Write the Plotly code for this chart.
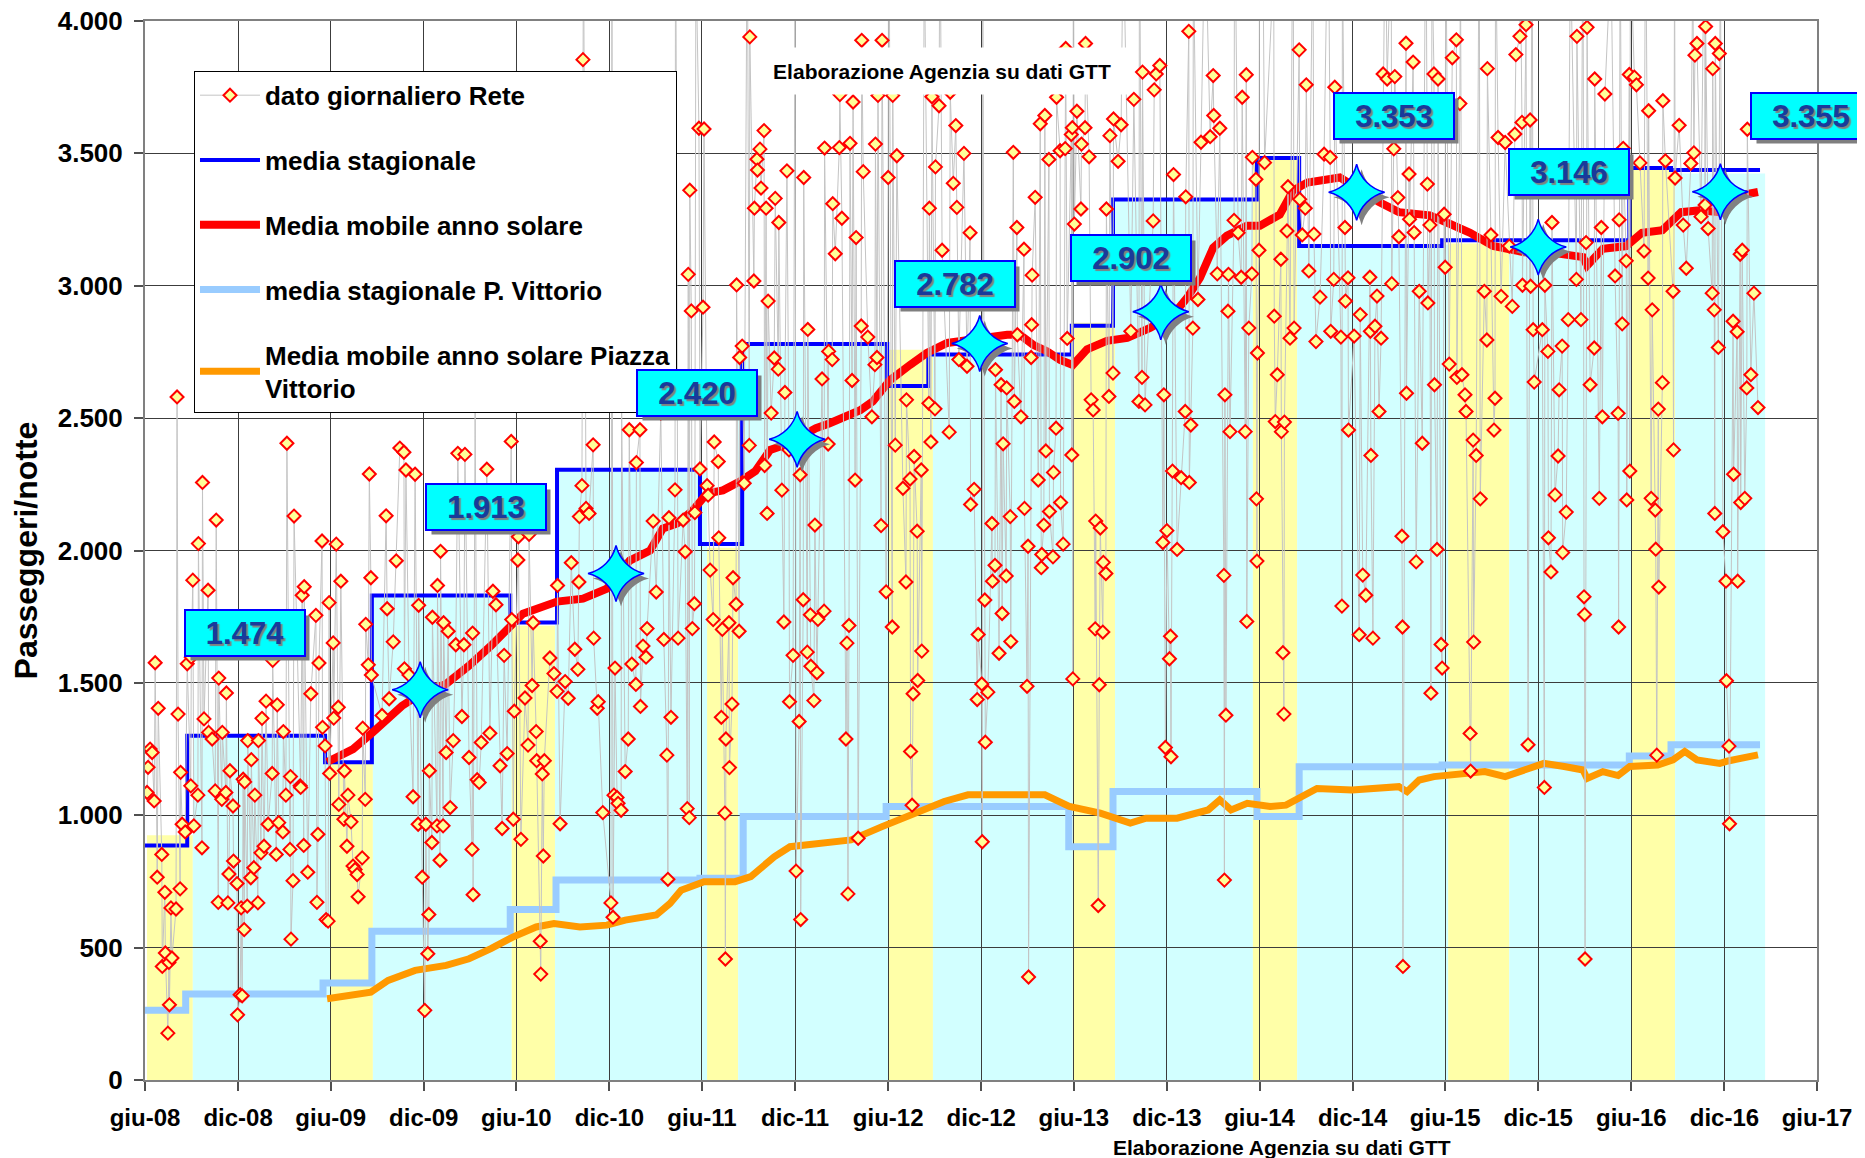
import pandas as pd
import plotly.graph_objects as go

# Origine dei giorni usati nelle serie (giorno 0 = 1 giugno 2008)
INIZIO = pd.Timestamp("2008-06-01")
FINE = pd.Timestamp("2017-06-01")

# --- dato giornaliero Rete: (giorno, passeggeri/notte) -------------------
rete_2008 = [(4, 1086), (6, 1181), (10, 1250), (14, 1237), (18, 1054), (20, 1576), (24, 766), (26, 1404),
             (33, 852), (34, 429), (39, 709), (40, 480), (45, 177), (47, 444), (48, 284), (51, 650),
             (53, 461), (61, 646), (63, 2580), (65, 1382), (69, 722), (70, 1162), (73, 966), (79, 937),
             (83, 1572), (90, 1111), (91, 1597), (94, 1888), (96, 960), (104, 1076), (105, 2026), (112, 877),
             (113, 2257), (116, 1364), (124, 1850), (125, 1313), (132, 1288), (138, 1092), (140, 2115),
             (144, 671), (145, 1518), (151, 1060), (152, 1313), (159, 1086), (160, 1462), (163, 669),
             (165, 778), (167, 1168), (173, 1035), (174, 827), (181, 742), (182, 246), (187, 322), (189, 650),
             (191, 318), (193, 1136), (195, 568), (196, 1126), (201, 657), (202, 1282), (208, 764), (209, 1210)]
rete_2009 = [(214, 802), (216, 1076), (222, 669), (223, 1282), (228, 858), (230, 1366), (234, 883), (238, 1431),
             (242, 966), (250, 1158), (251, 1585), (258, 852), (260, 1417), (263, 972), (271, 937), (272, 1316),
             (277, 1076), (279, 2405), (285, 871), (286, 1146), (287, 532), (291, 753), (293, 2130), (305, 1111),
             (306, 1105), (309, 1831), (312, 886), (313, 1863), (320, 785), (326, 1459), (336, 1755), (338, 671),
             (340, 928), (342, 1575), (348, 2036), (349, 1332), (354, 1262), (356, 606), (360, 600), (362, 1803),
             (363, 1158), (370, 1651), (371, 1367), (376, 2024), (380, 1408), (381, 1041), (385, 1884), (391, 985),
             (392, 1168), (397, 883), (399, 1076), (405, 975), (409, 808), (413, 795), (417, 776), (419, 692),
             (427, 839), (428, 1329), (433, 1060), (434, 1721), (439, 1568), (441, 2289), (444, 1897), (445, 1530),
             (466, 1377), (474, 2131), (476, 1780), (480, 1440), (488, 1655), (494, 1961), (501, 2387),
             (509, 2371), (510, 1553), (513, 2304), (519, 1530), (527, 1070), (531, 2288), (537, 966), (538, 1793),
             (545, 766), (550, 263), (552, 966), (556, 477), (558, 625), (559, 1168), (564, 897), (565, 1748),
             (574, 960), (575, 1868)]
rete_2010 = [(580, 830), (581, 1997), (586, 960), (587, 1727), (592, 1237), (596, 1695), (600, 1029), (606, 1282),
             (611, 1644), (615, 2367), (623, 1373), (627, 1644), (629, 2363), (637, 1218), (643, 871), (644, 1688),
             (645, 700), (649, 2551), (653, 1134), (657, 1124), (661, 1275), (672, 2307), (678, 1310), (684, 1846),
             (690, 1795), (698, 1187), (702, 950), (706, 1604), (712, 1233), (720, 2412), (721, 1739), (724, 985),
             (726, 1393), (733, 1964), (734, 2052), (739, 909), (747, 1443), (753, 1265), (755, 2061), (761, 1490),
             (763, 1727), (769, 1316), (770, 1206), (777, 524), (778, 400), (781, 1156), (783, 846), (785, 1206),
             (796, 1594), (804, 1535), (810, 1468), (811, 1868), (816, 968), (826, 1505), (832, 1442), (838, 1954),
             (845, 1627), (851, 1551), (853, 1881), (854, 2128), (859, 2245), (861, 3854), (862, 4400), (867, 2159),
             (873, 2140), (881, 2399), (882, 1669), (889, 1404), (891, 1429), (900, 1010), (916, 669), (918, 4300),
             (920, 615), (922, 1076), (924, 1556), (928, 1067), (930, 1045), (936, 1019), (937, 2556)]
rete_2011 = [(944, 1165), (950, 1288), (952, 2456), (957, 1571), (965, 1494), (966, 2332), (973, 2456), (974, 1411),
             (979, 1639), (985, 1597), (987, 1705), (999, 2111), (1005, 1843), (1014, 2519), (1020, 1664),
             (1026, 1227), (1028, 758), (1030, 2124), (1034, 1370), (1042, 2229), (1043, 4600), (1048, 1669),
             (1058, 2115), (1062, 1995), (1066, 1025), (1068, 3043), (1070, 991), (1071, 3361), (1074, 2905),
             (1076, 1705), (1080, 1799), (1081, 2143), (1083, 4250), (1089, 3595), (1091, 2308), (1097, 2919),
             (1099, 3592), (1105, 2245), (1107, 2209), (1111, 1926), (1117, 1739), (1119, 2410), (1127, 2336),
             (1128, 2048), (1133, 1370), (1135, 1702), (1140, 1008), (1141, 457), (1142, 1288), (1148, 1727),
             (1149, 1180), (1154, 1420), (1156, 1897), (1162, 1797), (1163, 3003), (1168, 1695), (1169, 2729),
             (1174, 2772), (1178, 2254), (1184, 4500), (1188, 2397), (1189, 3940), (1197, 3018), (1198, 3293),
             (1203, 3478), (1204, 3437), (1209, 3516), (1211, 3369), (1217, 3586), (1218, 2321), (1221, 3293),
             (1223, 2140), (1225, 2942), (1231, 2519), (1237, 2727), (1239, 3330), (1245, 2685), (1246, 3239),
             (1252, 2228), (1256, 1730), (1258, 2597), (1262, 3434), (1266, 2380), (1267, 1429), (1274, 1604),
             (1278, 4350), (1280, 789), (1286, 1354), (1288, 2286), (1289, 606), (1294, 1814), (1295, 3409),
             (1302, 1616), (1303, 2835), (1308, 1757)]
rete_2012 = [(1309, 1563), (1315, 1433), (1317, 2096), (1321, 1538), (1323, 1740), (1331, 2648), (1335, 1771),
             (1336, 3520), (1343, 2402), (1344, 2752), (1351, 2721), (1352, 3310), (1357, 3121), (1365, 3522),
             (1366, 3722), (1370, 3255), (1378, 1288), (1380, 1650), (1382, 703), (1384, 1717), (1386, 3538),
             (1390, 2642), (1392, 3694), (1396, 2266), (1398, 3182), (1402, 913), (1408, 2848), (1409, 3927),
             (1412, 3431), (1421, 2806), (1429, 2505), (1435, 2702), (1436, 3535), (1439, 2729), (1441, 3719),
             (1447, 2094), (1449, 3927), (1457, 1844), (1461, 3409), (1462, 4700), (1469, 1711), (1470, 3719),
             (1475, 2398), (1478, 3491), (1490, 2235), (1496, 1881), (1497, 2569), (1504, 2270), (1505, 1241),
             (1508, 1038), (1510, 1459), (1512, 2355), (1518, 2073), (1519, 1509), (1526, 2304), (1527, 1620),
             (1532, 4300), (1541, 2556), (1542, 3293), (1545, 2410), (1547, 3714), (1553, 2535), (1554, 3449),
             (1561, 3680), (1563, 4450), (1567, 3134), (1581, 2447), (1583, 3731), (1589, 3387), (1594, 3605),
             (1596, 3296), (1600, 2721), (1610, 3500), (1616, 2696), (1622, 3200), (1623, 2174), (1630, 2231),
             (1636, 1437), (1638, 1683), (1645, 1496), (1646, 900), (1647, 4200), (1651, 1813), (1652, 1276),
             (1657, 1465), (1665, 2102), (1666, 1884), (1671, 1944), (1672, 2683)]
rete_2013 = [(1679, 1612), (1683, 2626), (1685, 1762), (1687, 2403), (1693, 1904), (1694, 2614), (1701, 2128),
             (1702, 1656), (1707, 3504), (1709, 2563), (1714, 3220), (1715, 2815), (1722, 2505), (1728, 3138),
             (1729, 2159), (1734, 1487), (1736, 2016), (1737, 389), (1742, 2729), (1743, 2853), (1744, 3040),
             (1750, 3334), (1756, 2266), (1760, 3612), (1762, 1935), (1763, 1985), (1767, 2096), (1769, 3643),
             (1771, 2376), (1777, 3477), (1778, 2147), (1785, 1976), (1786, 2295), (1791, 2462), (1792, 3712),
             (1799, 3510), (1800, 2181), (1805, 2024), (1809, 3518), (1810, 3896), (1813, 2801), (1821, 3571),
             (1822, 2361), (1823, 3597), (1824, 1515), (1825, 4600), (1827, 3233), (1832, 3659), (1840, 3290),
             (1841, 3535), (1848, 3597), (1849, 3915), (1856, 3487), (1860, 2569), (1864, 2531), (1868, 1704),
             (1869, 2111), (1874, 659), (1876, 1493), (1878, 2085), (1883, 1692), (1884, 1955), (1889, 1913),
             (1890, 3290), (1895, 2582), (1897, 3567), (1903, 2670), (1904, 3630), (1913, 3470), (1919, 3608),
             (1923, 4350), (1938, 2828), (1944, 3704), (1954, 2563), (1955, 4500), (1960, 2654), (1961, 3807),
             (1966, 2550), (1982, 3245), (1984, 3740), (1988, 3800), (1995, 3832), (2001, 2030), (2003, 2588),
             (2006, 1256), (2009, 2075), (2014, 1591), (2016, 1676), (2017, 1221), (2020, 2300), (2022, 3420),
             (2029, 2004), (2037, 2275)]
rete_2014 = [(2045, 2525), (2046, 3336), (2052, 3961), (2053, 2257), (2056, 2474), (2060, 2840), (2061, 4250),
             (2070, 2948), (2076, 3542), (2084, 4400), (2094, 3563), (2100, 3794), (2101, 3643), (2108, 3045),
             (2113, 3595), (2121, 1906), (2122, 755), (2123, 2588), (2125, 1378), (2129, 2904), (2130, 3043),
             (2133, 2449), (2141, 3247), (2142, 4550), (2149, 3200), (2155, 3032), (2157, 3712), (2163, 2449),
             (2165, 3797), (2166, 1732), (2170, 2840), (2176, 3045), (2177, 3485), (2184, 3402), (2185, 2195),
             (2186, 1960), (2187, 2746), (2190, 3134), (2191, 4300), (2197, 4450), (2201, 3465), (2219, 4200),
             (2220, 2885), (2222, 2487), (2226, 2664), (2233, 3100), (2234, 2449), (2237, 1614), (2239, 1382),
             (2240, 2485), (2245, 3207), (2247, 3374), (2251, 2802), (2257, 4600), (2259, 2840), (2269, 3891),
             (2270, 3327), (2275, 3192), (2281, 3293), (2283, 3759), (2288, 3056), (2296, 4350), (2298, 3195),
             (2302, 2789), (2310, 2957), (2318, 3497), (2326, 4500), (2330, 3485), (2331, 2828), (2337, 3024),
             (2339, 3750), (2351, 2806), (2353, 1790), (2354, 4250), (2359, 3220), (2360, 2942), (2365, 3030),
             (2366, 2455), (2377, 2810), (2387, 1682), (2389, 2891), (2394, 1907), (2400, 1831)]
rete_2015 = [(2408, 3032), (2409, 2828), (2410, 2359), (2414, 1669), (2418, 2847), (2422, 2961), (2426, 2525),
             (2430, 2802), (2434, 3800), (2438, 4400), (2442, 3781), (2450, 4300), (2451, 3008), (2455, 3517),
             (2457, 3790), (2463, 3333), (2465, 3185), (2471, 2054), (2472, 1711), (2473, 429), (2479, 3916),
             (2480, 2594), (2485, 3422), (2486, 3251), (2493, 3845), (2495, 3201), (2499, 1957), (2505, 2979),
             (2511, 2405), (2518, 4550), (2521, 3384), (2522, 2935), (2526, 3229), (2528, 1461), (2530, 4250),
             (2534, 3800), (2535, 2626), (2540, 2004), (2542, 3781), (2548, 1645), (2550, 1556), (2554, 3270),
             (2556, 3070), (2557, 4400), (2564, 2704), (2570, 3861), (2578, 3929), (2579, 2654), (2585, 3688),
             (2586, 4300), (2589, 2664), (2595, 2588), (2597, 2525), (2605, 1309), (2606, 1167), (2611, 2417),
             (2612, 1654), (2617, 2359), (2623, 4500), (2625, 2195), (2633, 2979), (2638, 2795), (2639, 3820),
             (2646, 3192), (2652, 2455), (2654, 2575), (2655, 4350), (2660, 3560), (2666, 2960), (2674, 3541),
             (2682, 3150), (2688, 2922), (2693, 3573), (2695, 3873), (2703, 3942), (2704, 4200), (2707, 3617),
             (2708, 3002), (2715, 3986), (2719, 1266), (2723, 3626), (2724, 2998), (2727, 4450), (2729, 2834),
             (2731, 2636), (2747, 2834), (2751, 1105), (2752, 3002), (2758, 2752), (2759, 2048), (2764, 1919),
             (2766, 3239)]
rete_2016 = [(2772, 2210), (2778, 2357), (2780, 2607), (2786, 2772), (2787, 1992), (2794, 2145), (2798, 2872),
             (2802, 4300), (2814, 3024), (2815, 3942), (2823, 2872), (2827, 4600), (2829, 1825), (2830, 1758),
             (2831, 457), (2833, 3163), (2835, 3976), (2841, 2626), (2849, 2765), (2850, 3781), (2859, 2197),
             (2863, 3220), (2865, 2505), (2870, 3724), (2882, 4250), (2890, 3037), (2896, 2518), (2897, 1711),
             (2898, 3249), (2900, 4400), (2904, 2856), (2906, 3519), (2912, 3094), (2913, 2191), (2918, 3798),
             (2919, 2300), (2920, 4300), (2928, 3788), (2932, 3759), (2939, 3464), (2947, 3131), (2950, 4500),
             (2955, 3029), (2956, 3661), (2961, 2197), (2963, 2909), (2969, 2153), (2970, 2005), (2972, 1227),
             (2975, 2534), (2976, 1862), (2983, 2634), (2984, 3699), (2989, 3472), (3004, 2979), (3005, 2380),
             (3007, 4350), (3008, 3407), (3016, 3606), (3024, 3229), (3030, 3066), (3039, 3462), (3043, 4200),
             (3045, 3502), (3047, 3871), (3051, 3915), (3059, 3261), (3066, 4450), (3067, 3305), (3068, 3979),
             (3073, 3216), (3081, 2972), (3082, 3820), (3085, 2909), (3086, 2140), (3087, 3915), (3093, 2767),
             (3095, 3877), (3097, 4300), (3102, 2071), (3108, 1884), (3109, 1508), (3114, 1261), (3115, 968),
             (3122, 2866), (3123, 2288), (3130, 2826), (3131, 1884)]
rete_2017 = [(3136, 3119), (3137, 2181), (3140, 3134), (3145, 2197), (3149, 2614), (3150, 3591), (3157, 2664),
             (3163, 2972), (3171, 2540)]

# --- media stagionale Rete (gradini: giorno di inizio, valore) -----------
blu_giorni = [0, 83, 354, 446, 718, 810, 1091, 1174, 1459, 1540, 1822, 1903, 2186, 2269, 2550, 2918, 3000, 3175]
blu_valori = [886, 1300, 1200, 1830, 1728, 2305, 2025, 2780, 2621, 2740, 2849, 3326, 3483, 3150, 3172, 3445,
              3437, 3437]

# --- media stagionale P. Vittorio ---------------------------------------
pv_giorni = [0, 80, 350, 446, 718, 808, 1091, 1176, 1457, 1816, 1903, 2186, 2269, 2550, 2918, 3000, 3175]
pv_valori = [263, 325, 366, 562, 644, 755, 762, 995, 1033, 881, 1090, 995, 1183, 1190, 1224, 1266, 1266]

# --- Media mobile anno solare (Rete) -------------------------------------
mm_giorni = [358, 409, 448, 488, 505, 548, 592, 637, 680, 743, 810, 861, 908, 953, 993, 1018, 1046, 1077,
             1105, 1136, 1170, 1200, 1229, 1260, 1282, 1319, 1345, 1384, 1406, 1431, 1465, 1504, 1537, 1577,
             1622, 1667, 1695, 1720, 1746, 1773, 1799, 1824, 1852, 1891, 1931, 1976, 2021, 2049, 2074, 2100,
             2127, 2166, 2192, 2231, 2257, 2285, 2324, 2349, 2373, 2426, 2465, 2526, 2558, 2605, 2650, 2711,
             2758, 2827, 2835, 2866, 2912, 2943, 2983, 3020, 3057, 3096, 3104, 3155, 3171]
mm_valori = [1201, 1250, 1314, 1390, 1413, 1466, 1496, 1565, 1640, 1761, 1807, 1818, 1856, 1962, 2000, 2083,
             2102, 2152, 2216, 2227, 2261, 2300, 2380, 2400, 2425, 2462, 2480, 2515, 2530, 2564, 2644, 2701,
             2746, 2784, 2797, 2810, 2815, 2815, 2777, 2753, 2720, 2701, 2760, 2792, 2803, 2841, 2890, 2955,
             3030, 3144, 3189, 3227, 3227, 3269, 3360, 3390, 3402, 3409, 3380, 3316, 3278, 3266, 3240, 3200,
             3150, 3127, 3127, 3108, 3076, 3140, 3150, 3200, 3210, 3278, 3285, 3278, 3330, 3350, 3354]

# --- Media mobile anno solare Piazza Vittorio ----------------------------
pvmm_giorni = [358, 417, 444, 478, 531, 592, 637, 680, 723, 769, 804, 855, 908, 944, 1005, 1032, 1054, 1099,
               1160, 1191, 1237, 1268, 1330, 1388, 1449, 1510, 1571, 1618, 1681, 1740, 1769, 1817, 1878, 1937,
               1968, 2029, 2090, 2113, 2135, 2167, 2212, 2243, 2273, 2304, 2373, 2465, 2481, 2505, 2534, 2605,
               2634, 2674, 2711, 2750, 2790, 2827, 2835, 2866, 2896, 2919, 2974, 3004, 3027, 3051, 3096, 3112,
               3171]
pvmm_valori = [307, 320, 332, 376, 414, 433, 458, 496, 540, 578, 591, 578, 585, 604, 623, 667, 717, 749, 749,
               768, 843, 881, 895, 907, 957, 1008, 1052, 1077, 1077, 1071, 1077, 1033, 1008, 970, 989, 989, 1020,
               1058, 1020, 1045, 1033, 1038, 1070, 1101, 1095, 1108, 1089, 1133, 1146, 1158, 1165, 1146, 1171,
               1196, 1184, 1171, 1139, 1165, 1150, 1184, 1190, 1209, 1241, 1209, 1196, 1205, 1228]

# --- fasce stagionali di sfondo (bordi in giorni, altezza) ---------------
fasce_bordi = [4, 94, 364, 448, 721, 806, 1105, 1166, 1461, 1549, 1824, 1907, 2178, 2265, 2562, 2682, 2923,
               3008, 3185]
fasce_altezza = [924, 1300, 1200, 1830, 1716, 2310, 2010, 2780, 2758, 2740, 2860, 3326, 3485, 3155, 3160,
                 3170, 3443, 3424]
fasce_stagione = ["estate", "inverno"] * 9

# --- valori di fine anno evidenziati -------------------------------------
stelle_date = ["2009-11-24", "2010-12-14", "2011-12-05", "2012-11-28", "2013-11-19", "2014-12-09",
               "2015-12-01", "2016-11-23"]
stelle_valori = [1474, 1913, 2420, 2782, 2902, 3353, 3146, 3355]

# --- assi -----------------------------------------------------------------
tick_date = pd.date_range(INIZIO, FINE, freq="6MS")
etichette_x = ["giu-08", "dic-08", "giu-09", "dic-09", "giu-10", "dic-10", "giu-11", "dic-11", "giu-12",
               "dic-12", "giu-13", "dic-13", "giu-14", "dic-14", "giu-15", "dic-15", "giu-16", "dic-16", "giu-17"]
tick_y = [0, 500, 1000, 1500, 2000, 2500, 3000, 3500, 4000]

# ---------------------------------------------------------------------------
W, H = 1865, 1158
M = dict(l=137, r=56, t=13, b=86)   # la pagina aggiunge 8 px di margine in alto e a sinistra
FONT = "Liberation Sans, Arial, sans-serif"
COLORI_FASCE = {"estate": "#FFFFA8", "inverno": "#D2FFFF"}
# posizione dei riquadri etichetta rispetto alla stella (pixel)
offset_etichette = [(-175, 57), (-130, 67), (-100, 46), (-25, 59), (-30, 54), (37, 76), (31, 75), (91, 76)]


def a_date(giorni):
    return INIZIO + pd.to_timedelta(giorni, unit="D")


rete = sorted(rete_2008 + rete_2009 + rete_2010 + rete_2011 + rete_2012 + rete_2013 + rete_2014
              + rete_2015 + rete_2016 + rete_2017)
rete_x = a_date([g for g, _ in rete])
rete_y = [v for _, v in rete]

fig = go.Figure()

fig.add_trace(go.Scatter(
    x=a_date(pv_giorni), y=pv_valori, mode="lines", line=dict(color="#99CCFF", width=7, shape="hv"),
    name="media stagionale P. Vittorio", legendgroup="pv", legendrank=4,
))
fig.add_trace(go.Scatter(
    x=a_date(pvmm_giorni), y=pvmm_valori, mode="lines", line=dict(color="#FF9900", width=7),
    name="Media mobile anno solare Piazza<br>Vittorio", legendgroup="pvmm", legendrank=5,
))
fig.add_trace(go.Scatter(
    x=a_date(blu_giorni), y=blu_valori, mode="lines", line=dict(color="#0000FF", width=4, shape="hv"),
    name="media stagionale", legendgroup="blu", legendrank=2,
))
fig.add_trace(go.Scatter(
    x=a_date(mm_giorni), y=mm_valori, mode="lines", line=dict(color="#FF0000", width=8),
    name="Media mobile anno solare", legendgroup="mm", legendrank=3,
))
fig.add_trace(go.Scatter(
    x=rete_x, y=rete_y, mode="lines+markers",
    line=dict(color="#C4C4C4", width=1),
    marker=dict(symbol="diamond", size=10, color="#FFFF99", line=dict(color="#FF0000", width=2)),
    name="dato giornaliero Rete", legendgroup="rete", legendrank=1,
))

# stelle con ombra (l'ombra usa una coppia di assi spostata di qualche pixel)
stelle_x = pd.to_datetime(stelle_date)
fig.add_trace(go.Scatter(
    x=stelle_x, y=stelle_valori, mode="markers", xaxis="x2", yaxis="y2", showlegend=False, hoverinfo="skip",
    marker=dict(symbol="star-diamond", size=40, color="#808080", line=dict(width=0)),
))
fig.add_trace(go.Scatter(
    x=stelle_x, y=stelle_valori, mode="markers", xaxis="x3", yaxis="y3", showlegend=False,
    marker=dict(symbol="star-diamond", size=40, color="#00FFFF", line=dict(color="#0000FF", width=1.5)),
))

for i in range(len(fasce_altezza)):
    fig.add_shape(
        type="rect", xref="x", yref="y", layer="below",
        x0=a_date(fasce_bordi[i]), x1=a_date(fasce_bordi[i + 1]), y0=0, y1=fasce_altezza[i],
        fillcolor=COLORI_FASCE[fasce_stagione[i]], line_width=0,
    )

for xd, v, (dx, dy) in zip(stelle_x, stelle_valori, offset_etichette):
    testo = f"{v:,}".replace(",", ".")
    # ombra del riquadro
    fig.add_annotation(
        x=xd, y=v, xref="x", yref="y", text="&nbsp;", showarrow=False,
        xanchor="center", yanchor="middle",
        xshift=dx + 5, yshift=dy - 5, width=116, height=42,
        bgcolor="#7F7F7F", font=dict(family=FONT, size=31),
    )
    fig.add_annotation(
        x=xd, y=v, xref="x", yref="y", text=testo, showarrow=False,
        xanchor="center", yanchor="middle",
        xshift=dx, yshift=dy, width=116, height=42,
        bgcolor="#00FFFF", bordercolor="#0000FF", borderwidth=2,
        font=dict(family=FONT, size=31, color="#1A3A9A", weight="bold", shadow="2px 2px 1px #808080"),
    )

fig.add_annotation(
    x=0.4767, y=0.9528, xref="paper", yref="paper", text="Elaborazione Agenzia su dati GTT",
    showarrow=False, xanchor="center", yanchor="middle", width=372, height=44, bgcolor="white",
    font=dict(family=FONT, size=21, color="black", weight="bold"),
)
fig.add_annotation(
    x=0.680, y=-0.064, xref="paper", yref="paper", text="Elaborazione Agenzia su dati GTT",
    showarrow=False, xanchor="center", yanchor="middle",
    font=dict(family=FONT, size=21, color="black", weight="bold"),
)
fig.add_annotation(
    x=-0.0712, y=0.5, xref="paper", yref="paper", text="Passeggeri/notte", textangle=-90,
    showarrow=False, xanchor="center", yanchor="middle",
    font=dict(family=FONT, size=32, color="black", weight="bold"),
)

# spostamento dell'ombra delle stelle: circa 5 pixel verso destra e in basso
pw = W - M["l"] - M["r"]
ph = H - M["t"] - M["b"]
dx_giorni = pd.Timedelta(days=5 * (FINE - INIZIO).days / pw)
dy_val = 5 * 4000 / ph

asse_x = dict(
    type="date", range=[INIZIO, FINE], tickvals=tick_date, ticktext=etichette_x, automargin=False,
    showgrid=True, gridcolor="#3C3C3C", gridwidth=1,
    showline=True, linecolor="#808080", linewidth=2, mirror=True,
    ticks="outside", ticklen=9, tickwidth=1.5, tickcolor="#505050", ticklabelstandoff=6,
    ticklabeloverflow="allow",
    tickfont=dict(family=FONT, size=24, color="black", weight="bold"),
)
asse_y = dict(
    range=[0, 4000], tickvals=tick_y, tickformat=",d", automargin=False,
    showgrid=True, gridcolor="#3C3C3C", gridwidth=1, zeroline=False,
    showline=True, linecolor="#808080", linewidth=2, mirror=True,
    ticks="outside", ticklen=9, tickwidth=1.5, tickcolor="#505050", ticklabelstandoff=6,
    ticklabeloverflow="allow",
    tickfont=dict(family=FONT, size=26, color="black", weight="bold"),
)

fig.update_layout(
    width=W, height=H, margin=M,
    separators=",.",
    plot_bgcolor="white", paper_bgcolor="white",
    font=dict(family=FONT, color="black"),
    xaxis=asse_x, yaxis=asse_y,
    xaxis2=dict(overlaying="x", anchor="y2", visible=False, type="date", automargin=False,
                range=[INIZIO - dx_giorni, FINE - dx_giorni]),
    yaxis2=dict(overlaying="y", anchor="x2", visible=False, automargin=False, range=[dy_val, 4000 + dy_val]),
    xaxis3=dict(overlaying="x", anchor="y3", visible=False, type="date", automargin=False, range=[INIZIO, FINE]),
    yaxis3=dict(overlaying="y", anchor="x3", visible=False, automargin=False, range=[0, 4000]),
    showlegend=True,
    legend=dict(
        x=0.0293, y=0.953, xanchor="left", yanchor="top",
        bgcolor="white", bordercolor="black", borderwidth=1,
        font=dict(family=FONT, size=26, color="black", weight="bold"),
        tracegroupgap=28, itemwidth=60,
    ),
)

fig.write_html("out.html")
